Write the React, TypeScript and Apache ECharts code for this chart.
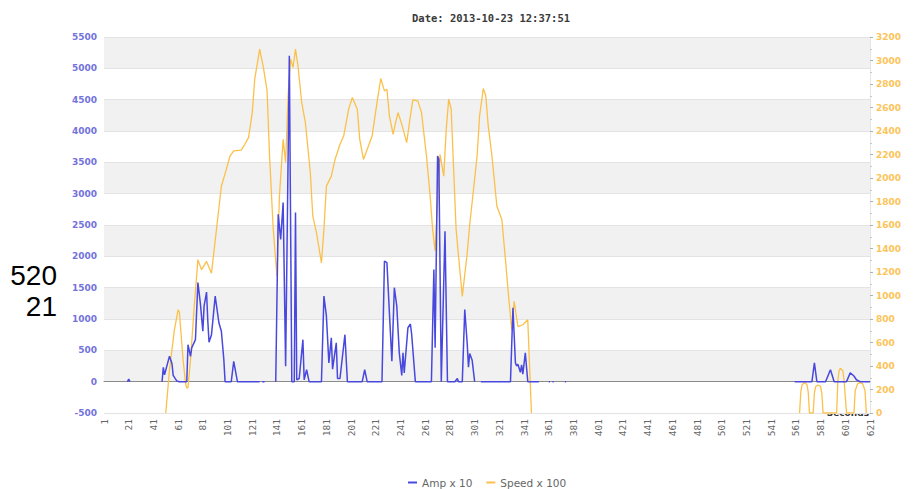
import React, { useEffect, useRef } from "react";
import * as echarts from "echarts";

const titleText = "Date: 2013-10-23 12:37:51";
const legendNames = ["Amp x 10", "Speed x 100"];
const xAxisName = "Seconds";
const strayText = "520\n21";

// seconds / values; a null value breaks the line
const ampSeconds = [
  20, 21, 22, 23,
  48, 49, 50, 52, 54, 56, 57, 60, 62, 68, 69, 71, 72, 75, 77, 79, 81, 82, 84, 85, 86, 88, 91, 94, 96, 98, 99, 104, 106, 109, 127, 128,
  129, 131, 132,
  140, 142, 144, 146, 148, 151, 153, 155, 156, 157, 159, 162, 163, 165, 167, 177, 179, 181, 183, 185, 186, 189, 190, 192, 196, 198,
  210, 212, 214, 226, 228, 230, 232, 234, 236, 238, 240, 242, 243, 244, 247, 249, 250, 253, 266, 268, 269, 271, 272, 274, 277, 279,
  285, 287, 288, 291, 293, 295, 296, 297, 299, 301, 302,
  306, 330, 332, 334, 335, 336, 338, 339, 340, 342, 344, 353, 354,
  361, 362, 363, 364, 365, 366, 374, 375, 376,
  560, 574, 576, 578, 585, 589, 592, 602, 605, 608, 610, 613, 621,
];
const ampValues: (number | null)[] = [
  0, 40, 0, null,
  0, 230, 110, 260, 405, 290, 100, 10, 0, 0, 590, 405, 540, 670, 1580, 1250, 805, 1205, 1430, 975, 630, 750, 1365, 940, 805, 350, 0, 0, 325, 0, 0, null,
  0, 0, null,
  0, 2670, 2270, 2860, 245, 5200, 0, 0, 2700, 30, 50, 670, 30, 190, 0, 0, 1365, 1050, 300, 700, 200, 620, 50, 50, 750, 0,
  0, 190, 0, 0, 1925, 1900, 1100, 325, 1500, 1200, 460, 100, 460, 140, 860, 920, 760, 0, 0, 1790, 540, 3600, 3550, 0, 2400, 0,
  0, 50, 0, 0, 1150, 600, 230, 450, 340, 0, null,
  0, 0, 1180, 300, 250, 280, 150, 270, 120, 460, 0, 0, null,
  0, 0, null, 0, 0, null, 0, 0, null,
  0, 0, 300, 0, 0, 190, 0, 0, 140, 90, 30, 0, 0,
];

const speedSeconds = [
  51, 54, 58, 61, 62, 65, 67, 68, 69, 71, 74, 77, 80, 84, 88, 92, 96, 100, 103, 106, 112, 115, 118, 121, 123, 127, 130, 133, 135, 138,
  141, 143, 146, 148, 150, 152, 154, 156, 158, 161, 164, 168, 170, 173, 177, 179, 181, 185, 188, 192, 195, 199, 202, 206, 208, 211,
  218, 222, 225, 228, 230, 232, 235, 237, 239, 242, 246, 249, 251, 255, 258, 262, 265, 267, 269, 273, 276, 278, 280, 282, 284, 286,
  291, 295, 297, 303, 305, 308, 310, 312, 315, 319, 323, 326, 328, 331, 333, 336, 340, 344, 346, 347, 348,
  564, 565, 566, 568, 570, 571, 572, 575, 576, 577, 579, 581, 582, 583, 594, 595, 596, 597, 599, 600, 602, 608, 609, 611, 613, 615, 617, 618,
];
const speedValues: (number | null)[] = [
  0, 367, 708, 879, 860, 452, 253, 211, 220, 450, 900, 1305, 1220, 1290, 1190, 1560, 1930, 2073, 2187, 2230, 2238, 2287, 2344, 2557, 2841, 3097, 2941, 2741, 2187, 1561,
  1163, 1846, 2329, 2130, 2699, 3012, 2941, 3097, 2955, 2643, 2472, 2045, 1675, 1533, 1277, 1561, 1931, 2016, 2158, 2287, 2357, 2585, 2685, 2585, 2329, 2158,
  2357, 2643, 2847, 2741, 2755, 2528, 2372, 2472, 2557, 2458, 2301, 2528, 2665, 2656, 2557, 2187, 1846, 1561, 1380, 2200, 2016, 2415, 2671, 2585, 2073, 1561,
  992, 1363, 1600, 2187, 2528, 2762, 2700, 2443, 2187, 1760, 1647, 1300, 1050, 708, 950, 736, 751, 794, 253, 0, null,
  0, 180, 240, 259, 240, 180, 0, 0, 170, 225, 239, 225, 170, 0, 0, 280, 360, 381, 360, 280, 0, 0, 190, 250, 259, 250, 190, 0,
];

const xMin = 1;
const xMax = 621;
const xStep = 20;
const ampMin = -500;
const ampMax = 5500;
const ampStep = 500;
const speedMin = 0;
const speedMax = 3200;
const speedStep = 200;

const toPairs = (xs: number[], ys: (number | null)[]) => xs.map((x, i) => [x, ys[i]]);
const plain = (v: number) => String(v);

export default function App() {
  const ref = useRef<HTMLDivElement>(null);
  useEffect(() => {
    document.body.style.margin = "0";
    if (!ref.current) return;
    const chart = echarts.init(ref.current, undefined, { renderer: "svg" });
    chart.setOption({
      animation: false,
      backgroundColor: "#ffffff",
      title: {
        text: titleText,
        left: 407,
        top: 7,
        textStyle: {
          fontFamily: "DejaVu Sans Mono",
          fontSize: 10.5,
          fontWeight: "bold",
          color: "#3a3a3a",
        },
      },
      legend: {
        data: legendNames,
        left: 403,
        top: 472,
        icon: "rect",
        itemWidth: 9,
        itemHeight: 2,
        itemGap: 14,
        textStyle: { fontFamily: "DejaVu Sans", fontSize: 10.5, color: "#666" },
      },
      grid: { left: 104, right: 43, top: 37, bottom: 76, containLabel: false },
      xAxis: {
        type: "value",
        min: xMin,
        max: xMax,
        interval: xStep,
        axisLine: { show: true, onZero: true, lineStyle: { color: "#8a8a8a", width: 1 } },
        axisTick: { show: false },
        splitLine: { show: false },
        axisLabel: {
          rotate: 90,
          margin: 6,
          fontSize: 9.5,
          fontFamily: "DejaVu Sans Mono",
          color: "#666",
          showMinLabel: true,
          showMaxLabel: true,
          formatter: plain,
        },
      },
      yAxis: [
        {
          type: "value",
          min: ampMin,
          max: ampMax,
          interval: ampStep,
          axisLine: { show: false },
          axisTick: { show: false },
          axisLabel: {
            margin: 7,
            fontSize: 9,
            fontWeight: "bold",
            fontFamily: "DejaVu Sans",
            color: "#7373dc",
            formatter: plain,
          },
          splitLine: { show: true, lineStyle: { color: "#e3e3e3", width: 1 } },
          splitArea: { show: true, areaStyle: { color: ["#ffffff", "#f1f1f1"] } },
        },
        {
          type: "value",
          position: "right",
          min: speedMin,
          max: speedMax,
          interval: speedStep,
          axisLine: { show: true, lineStyle: { color: "#e6e6e6" } },
          axisTick: { show: true, length: 3, lineStyle: { color: "#b0b0b0" } },
          minorTick: { show: true, splitNumber: 2, length: 2, lineStyle: { color: "#c8c8c8" } },
          axisLabel: {
            margin: 6,
            fontSize: 9,
            fontWeight: "bold",
            fontFamily: "DejaVu Sans",
            color: "#fcc458",
            formatter: plain,
          },
          splitLine: { show: false },
          splitArea: { show: false },
        },
      ],
      series: [
        {
          name: legendNames[0],
          type: "line",
          yAxisIndex: 0,
          data: toPairs(ampSeconds, ampValues),
          showSymbol: false,
          connectNulls: false,
          z: 3,
          itemStyle: { color: "#4848de" },
          lineStyle: { color: "#4848de", width: 1.5 },
        },
        {
          name: legendNames[1],
          type: "line",
          yAxisIndex: 1,
          data: toPairs(speedSeconds, speedValues),
          showSymbol: false,
          connectNulls: false,
          z: 2,
          itemStyle: { color: "#fbc04a" },
          lineStyle: { color: "#fbc04a", width: 1.3 },
        },
      ],
      graphic: [
        {
          type: "text",
          x: 869,
          y: 413,
          style: {
            text: xAxisName,
            align: "right",
            verticalAlign: "middle",
            fontFamily: "DejaVu Sans",
            fontSize: 9,
            fontWeight: "bold",
            fill: "#333",
          },
        },
        {
          type: "text",
          x: 57,
          y: 260,
          style: {
            text: strayText,
            align: "right",
            verticalAlign: "top",
            fontFamily: "Liberation Sans",
            fontSize: 28,
            lineHeight: 31,
            fill: "#000",
          },
        },
      ],
    });
    return () => chart.dispose();
  }, []);
  return <div ref={ref} style={{ width: 913, height: 489 }} />;
}
